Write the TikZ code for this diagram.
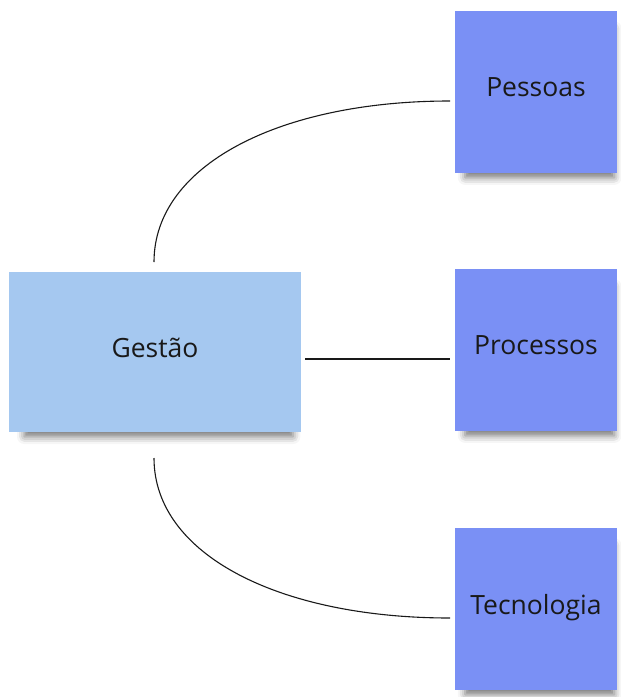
\documentclass[tikz,border=0pt]{standalone}
\usepackage{fontspec}
\setmainfont{Open Sans}
\usetikzlibrary{shadows.blur}
\definecolor{gestaofill}{RGB}{165,200,240}
\definecolor{itemfill}{RGB}{122,144,245}
\definecolor{txt}{RGB}{25,25,25}
\newcommand{\cardtext}[1]{\raisebox{9pt}{#1}}
\tikzset{
  card/.style={draw=none, inner sep=0pt, text=txt, font=\fontsize{26.5}{30}\selectfont,
    blur shadow={shadow xshift=4pt, shadow yshift=-12pt, shadow scale=0.92,
      shadow blur radius=8pt, shadow opacity=55}},
  maincard/.style={card, fill=gestaofill, minimum width=292pt, minimum height=160pt},
  itemcard/.style={card, fill=itemfill, minimum width=162pt, minimum height=162pt},
  link/.style={line width=1.1pt, draw=black!90}
}
\begin{document}
\begin{tikzpicture}[x=1pt,y=-1pt]
\useasboundingbox (0,0) rectangle (621,697);
\node[maincard] (gestao) at (155,352) {\cardtext{Gestão}};
\node[itemcard] (pessoas) at (536,92) {\cardtext{Pessoas}};
\node[itemcard] (processos) at (536,350) {\cardtext{Processos}};
\node[itemcard] (tecnologia) at (536,609) {\cardtext{Tecnologia}};
\coordinate (g1) at (154,262);
\coordinate (p1) at (450,101);
\coordinate (g2) at (305,359);
\coordinate (r1) at (450,359);
\coordinate (g3) at (154,458);
\coordinate (t1) at (450,618);
\draw[link] (g1) .. controls (154,165) and (280,101) .. (p1);
\draw[link] (g2) -- (r1);
\draw[link] (g3) .. controls (154,555) and (280,618) .. (t1);
\end{tikzpicture}
\end{document}
